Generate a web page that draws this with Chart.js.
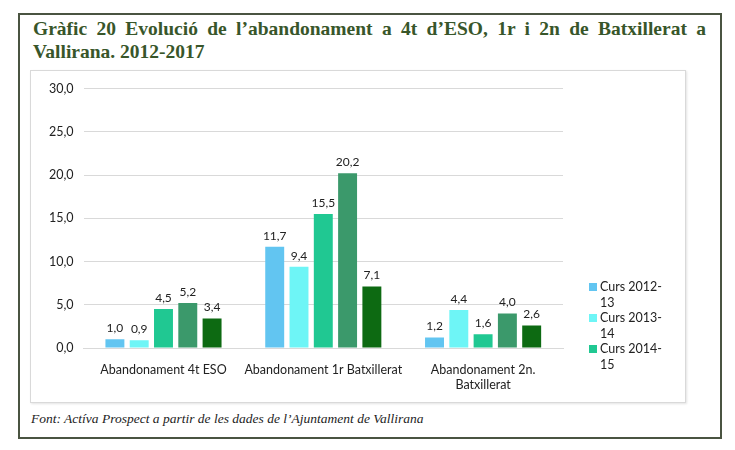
<!DOCTYPE html>
<html>
<head>
<meta charset="utf-8">
<script src="https://cdn.jsdelivr.net/npm/chart.js@4"></script>
<style>
  body { margin: 0; background: #fff; width: 735px; height: 450px; position: relative; overflow: hidden; }
  #frame { position: absolute; left: 18px; top: 13px; width: 700px; height: 422px; border: 2px solid #4a5441; }
  #title { position: absolute; left: 33px; top: 17px; width: 673px; font-family: "Liberation Serif", serif; font-weight: bold;
           font-size: 19.5px; line-height: 23px; color: #38562a; text-align: justify; text-align-last: left; }
  #box { position: absolute; left: 30px; top: 70px; width: 654px; height: 331px; border: 1px solid #d9d9d9; box-shadow: 1px 1px 2px #e4e4e4; }
  #legend { position: absolute; left: 557px; top: 208px; width: 90px; font-family: Lato, sans-serif; font-size: 12.5px; line-height: 15.5px; color: #222; }
  .item { position: relative; padding-left: 12px; }
  .item span { position: absolute; left: 1px; top: 4px; width: 8px; height: 8px; }
  #source { position: absolute; left: 31px; top: 411px; font-family: "Liberation Serif", serif; font-style: italic; font-size: 13.5px; color: #222; }
</style>
</head>
<body>
<div id="frame"></div>
<div id="title">Gràfic 20 Evolució de l’abandonament a 4t d’ESO, 1r i 2n de Batxillerat a Vallirana. 2012-2017</div>
<div id="box">
  <canvas id="chart" width="654" height="331"></canvas>
  <div id="legend"></div>
</div>
<div id="source">Font: Actíva Prospect a partir de les dades de l’Ajuntament de Vallirana</div>
<script>
// Categories and series
const categories = ['Abandonament 4t ESO', 'Abandonament 1r Batxillerat', ['Abandonament 2n.', 'Batxillerat']];
const courses = ['Curs 2012-13', 'Curs 2013-14', 'Curs 2014-15', 'Curs 2015-16', 'Curs 2016-17'];
const curs1213 = [1.0, 11.7, 1.2];
const curs1314 = [0.9, 9.4, 4.4];
const curs1415 = [4.5, 15.5, 1.6];
const curs1516 = [5.2, 20.2, 4.0];
const curs1617 = [3.4, 7.1, 2.6];
const yTicks = [0, 5, 10, 15, 20, 25, 30];

const colors = ['#62c5f1', '#6ef5f6', '#20c892', '#3b996b', '#0d6a12'];
const series = [curs1213, curs1314, curs1415, curs1516, curs1617];

const fmt = v => v.toFixed(1).replace('.', ',');

// value labels above bars
const valueLabels = {
    id: 'valueLabels',
    afterDatasetsDraw(chart) {
        const ctx = chart.ctx;
        ctx.save();
        ctx.font = '12px Lato, sans-serif';
        ctx.fillStyle = '#222';
        ctx.textAlign = 'center';
        ctx.textBaseline = 'bottom';
        chart.data.datasets.forEach((ds, i) => {
            chart.getDatasetMeta(i).data.forEach((bar, j) => {
                ctx.fillText(fmt(ds.data[j]), bar.x, bar.y - 5);
            });
        });
        ctx.restore();
    }
};

const chart = new Chart(document.getElementById('chart'), {
    type: 'bar',
    data: {
        labels: categories,
        datasets: series.map((d, i) => ({
            label: courses[i],
            data: d,
            backgroundColor: colors[i],
            categoryPercentage: 0.76,
            barPercentage: 0.78
        }))
    },
    options: {
        responsive: false,
        animation: false,
        layout: { padding: { left: 8, right: 122, top: 12, bottom: 4 } },
        plugins: {
            legend: { display: false },
            tooltip: { enabled: false }
        },
        scales: {
            y: {
                min: 0,
                max: 30,
                afterBuildTicks: axis => { axis.ticks = yTicks.map(v => ({ value: v })); },
                ticks: {
                    color: '#222',
                    font: { family: 'Lato, sans-serif', size: 12.5 },
                    padding: 10,
                    callback: v => fmt(v)
                },
                grid: { color: '#d9d9d9', drawTicks: false },
                border: { display: false }
            },
            x: {
                ticks: {
                    color: '#222',
                    font: { family: 'Lato, sans-serif', size: 12.5 },
                    padding: 6,
                    maxRotation: 0,
                    autoSkip: false
                },
                grid: { display: false },
                border: { color: '#d9d9d9' }
            }
        }
    },
    plugins: [valueLabels]
});

// legend: the reference only has room for the first three courses
const legend = document.getElementById('legend');
chart.data.datasets.slice(0, 3).forEach(ds => {
    const item = document.createElement('div');
    item.className = 'item';
    item.innerHTML = '<span style="background:' + ds.backgroundColor + '"></span>' + ds.label.replace('-', '-<br>');
    legend.appendChild(item);
});
</script>
</body>
</html>
